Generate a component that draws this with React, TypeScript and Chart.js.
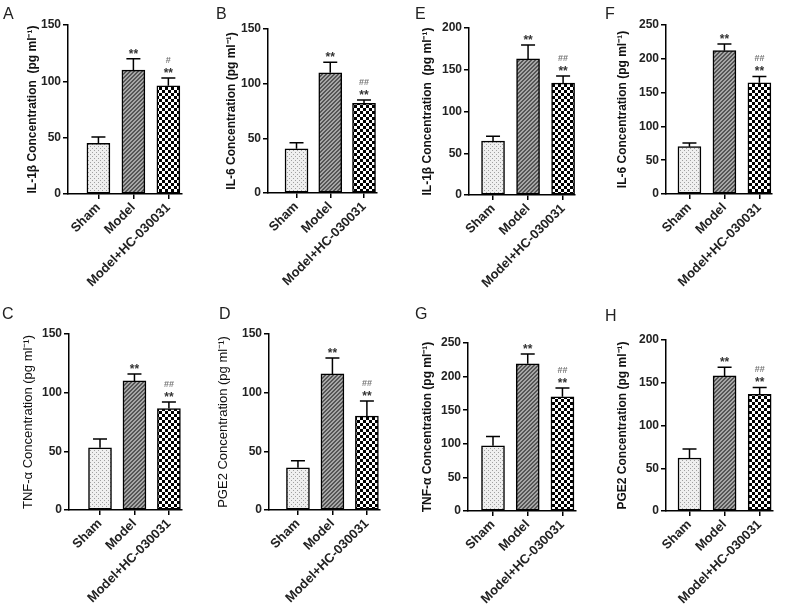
import React, { useEffect, useRef } from 'react';
import { Chart, registerables } from 'chart.js';
Chart.register(...registerables);

// ---------- data ----------
const categories = ['Sham', 'Model', 'Model+HC-030031'];
const starMarks = ['', '**', '**'];

const aMeans = [45, 110, 96];
const aSem = [5.5, 10, 7];
const aHash = ['', '', '#'];

const bMeans = [40.5, 110, 82];
const bSem = [5.5, 9.5, 3];
const bHash = ['', '', '##'];

const cMeans = [53, 110, 86.5];
const cSem = [7.5, 6, 5.5];
const cHash = ['', '', '##'];

const dMeans = [36, 116, 80];
const dSem = [6, 13.5, 13];
const dHash = ['', '', '##'];

const eMeans = [64.5, 163, 134];
const eSem = [6, 16.5, 8.5];
const eHash = ['', '', '##'];

const fMeans = [70, 212, 164.5];
const fSem = [5.5, 10, 9.5];
const fHash = ['', '', '##'];

const gMeans = [97, 219, 170];
const gSem = [14, 14.5, 13];
const gHash = ['', '', '##'];

const hMeans = [62, 158, 136.5];
const hSem = [10.5, 10, 8];
const hHash = ['', '', '##'];

const yMaxes = { A: 150, B: 150, C: 150, D: 150, E: 200, F: 250, G: 250, H: 200 };
const yTitles = {
  A: 'IL-1\u03b2 Concentration  (pg ml\u207b\u00b9)',
  B: 'IL-6 Concentration (pg ml\u207b\u00b9)',
  C: 'TNF-\u03b1 Concentration (pg ml\u207b\u00b9)',
  D: 'PGE2 Concentration (pg ml\u207b\u00b9)',
  E: 'IL-1\u03b2 Concentration  (pg ml\u207b\u00b9)',
  F: 'IL-6 Concentration (pg ml\u207b\u00b9)',
  G: 'TNF-\u03b1 Concentration (pg ml\u207b\u00b9)',
  H: 'PGE2 Concentration (pg ml\u207b\u00b9)',
};

const seriesByPanel = {
  A: { means: aMeans, sem: aSem, hash: aHash },
  B: { means: bMeans, sem: bSem, hash: bHash },
  C: { means: cMeans, sem: cSem, hash: cHash },
  D: { means: dMeans, sem: dSem, hash: dHash },
  E: { means: eMeans, sem: eSem, hash: eHash },
  F: { means: fMeans, sem: fSem, hash: fHash },
  G: { means: gMeans, sem: gSem, hash: gHash },
  H: { means: hMeans, sem: hSem, hash: hHash },
};

// ---------- layout (positions / sizes) ----------
type Layout = {
  id: string; left: number; top: number; w: number; h: number;
  axisX: number; yTop: number; yBottom: number; endX: number;
  xMin: number; xMax: number; titlePad: number; boldTitle: boolean;
  letterX: number; letterY: number;
};

const layouts: Layout[] = [
  { id: 'A', left: 0, top: 0, w: 195, h: 300, axisX: 68, yTop: 25, yBottom: 194, endX: 182, xMin: 0.13, xMax: 3.39, titlePad: 25, boldTitle: true, letterX: 3, letterY: 6 },
  { id: 'B', left: 195, top: 0, w: 195, h: 300, axisX: 268, yTop: 29, yBottom: 193, endX: 377, xMin: 0.155, xMax: 3.385, titlePad: 29, boldTitle: true, letterX: 216, letterY: 6 },
  { id: 'E', left: 390, top: 0, w: 200, h: 300, axisX: 469, yTop: 28, yBottom: 195, endX: 575, xMin: 0.314, xMax: 3.34, titlePad: 30, boldTitle: true, letterX: 415, letterY: 6 },
  { id: 'F', left: 590, top: 0, w: 200, h: 300, axisX: 666, yTop: 25, yBottom: 194, endX: 772, xMin: 0.33, xMax: 3.36, titlePad: 25, boldTitle: true, letterX: 605, letterY: 6 },
  { id: 'C', left: 0, top: 300, w: 195, h: 314, axisX: 69, yTop: 334, yBottom: 510, endX: 182, xMin: 0.10, xMax: 3.38, titlePad: 21, boldTitle: false, letterX: 2, letterY: 306 },
  { id: 'D', left: 195, top: 300, w: 195, h: 314, axisX: 269, yTop: 334, yBottom: 510, endX: 380, xMin: 0.16, xMax: 3.38, titlePad: 21, boldTitle: false, letterX: 219, letterY: 306 },
  { id: 'G', left: 390, top: 300, w: 200, h: 314, axisX: 468, yTop: 343, yBottom: 511, endX: 576, xMin: 0.28, xMax: 3.39, titlePad: 30, boldTitle: true, letterX: 415, letterY: 306 },
  { id: 'H', left: 590, top: 300, w: 200, h: 314, axisX: 666, yTop: 340, yBottom: 511, endX: 773, xMin: 0.33, xMax: 3.38, titlePad: 25, boldTitle: true, letterX: 605, letterY: 308 },
];

const FONT = '"Liberation Sans", Arial, Helvetica, sans-serif';

function makePattern(kind: string): CanvasPattern | string {
  const c = document.createElement('canvas');
  const ctx = c.getContext('2d');
  if (!ctx) return '#888';
  if (kind === 'dots') {
    c.width = 4; c.height = 4;
    ctx.fillStyle = '#efefef'; ctx.fillRect(0, 0, 4, 4);
    ctx.fillStyle = '#a0a0a0'; ctx.fillRect(0, 0, 1, 1); ctx.fillRect(2, 2, 1, 1);
  } else if (kind === 'hatch') {
    c.width = 4; c.height = 4;
    for (let x = 0; x < 4; x++) for (let y = 0; y < 4; y++) {
      ctx.fillStyle = (x + y) % 4 < 2 ? '#555555' : '#a6a6a6';
      ctx.fillRect(x, y, 1, 1);
    }
  } else {
    c.width = 6; c.height = 6;
    ctx.fillStyle = '#ffffff'; ctx.fillRect(0, 0, 6, 6);
    ctx.fillStyle = '#000000'; ctx.fillRect(0, 0, 3, 3); ctx.fillRect(3, 3, 3, 3);
  }
  return ctx.createPattern(c, 'repeat') || '#888';
}

function makeErrorPlugin(means: number[], sem: number[], hash: string[]) {
  return {
    id: 'errorBars',
    afterDatasetsDraw(chart: any) {
      const { ctx } = chart;
      const xs = chart.scales.x;
      const ys = chart.scales.y;
      ctx.save();
      ctx.strokeStyle = '#000';
      ctx.lineWidth = 1.5;
      for (let i = 0; i < means.length; i++) {
        const cx = xs.getPixelForValue(i + 1);
        const y0 = ys.getPixelForValue(means[i]);
        const y1 = ys.getPixelForValue(means[i] + sem[i]);
        ctx.beginPath();
        ctx.moveTo(cx, y0);
        ctx.lineTo(cx, y1);
        ctx.moveTo(cx - 7, y1);
        ctx.lineTo(cx + 7, y1);
        ctx.stroke();
        ctx.textAlign = 'center';
        ctx.textBaseline = 'alphabetic';
        if (starMarks[i]) {
          ctx.fillStyle = '#333';
          ctx.font = `bold 12px ${FONT}`;
          ctx.fillText(starMarks[i], cx, y1 - 1);
        }
        if (hash[i]) {
          ctx.fillStyle = '#777';
          ctx.font = `bold 9px ${FONT}`;
          ctx.fillText(hash[i], cx, y1 - 15);
        }
      }
      ctx.restore();
    },
  };
}

function Panel({ lay }: { lay: Layout }) {
  const ref = useRef<HTMLCanvasElement | null>(null);
  useEffect(() => {
    if (!ref.current) return;
    const s = (seriesByPanel as any)[lay.id];
    const patterns = [makePattern('dots'), makePattern('hatch'), makePattern('check')];
    const chart = new Chart(ref.current, {
      type: 'bar',
      data: {
        datasets: [
          {
            data: s.means.map((v: number, i: number) => ({ x: i + 1, y: v })),
            backgroundColor: patterns as any,
            borderColor: '#000',
            borderWidth: 1.5,
            borderSkipped: false,
            barThickness: 23,
          } as any,
        ],
      },
      options: {
        animation: false,
        responsive: false,
        maintainAspectRatio: false,
        layout: {
          padding: { top: lay.yTop - lay.top, right: lay.left + lay.w - lay.endX, bottom: 0, left: 0 },
        },
        plugins: { legend: { display: false }, tooltip: { enabled: false } },
        scales: {
          x: {
            type: 'linear',
            offset: false,
            bounds: 'data',
            min: lay.xMin,
            max: lay.xMax,
            afterBuildTicks: (scale: any) => {
              scale.ticks = categories.map((_, i) => ({ value: i + 1 }));
            },
            afterFit: (scale: any) => {
              scale.height = lay.top + lay.h - lay.yBottom;
            },
            grid: { display: true, offset: false, drawOnChartArea: false, drawTicks: true, tickLength: 5, color: '#000', lineWidth: 1.5 },
            border: { display: true, color: '#000', width: 1.5 },
            ticks: {
              autoSkip: false,
              maxRotation: 45,
              minRotation: 45,
              padding: 1,
              color: '#222',
              font: { family: FONT, size: 13, weight: 'bold' },
              callback: (v: any) => categories[Math.round(Number(v)) - 1] ?? '',
            },
          },
          y: {
            type: 'linear',
            min: 0,
            max: (yMaxes as any)[lay.id],
            afterFit: (scale: any) => {
              scale.width = lay.axisX - lay.left;
            },
            grid: { display: true, drawOnChartArea: false, drawTicks: true, tickLength: 5, color: '#000', lineWidth: 1.5 },
            border: { display: true, color: '#000', width: 1.5 },
            ticks: {
              stepSize: 50,
              padding: 2,
              color: '#222',
              font: { family: FONT, size: 12, weight: 'bold' },
            },
            title: {
              display: true,
              text: (yTitles as any)[lay.id],
              color: '#111',
              padding: { top: lay.titlePad, bottom: 0 },
              font: lay.boldTitle
                ? { family: FONT, size: 12, weight: 'bold' }
                : { family: FONT, size: 13, weight: 'normal' },
            },
          },
        },
      } as any,
      plugins: [makeErrorPlugin(s.means, s.sem, s.hash)],
    });
    return () => chart.destroy();
  }, [lay]);
  return (
    <canvas
      ref={ref}
      width={lay.w}
      height={lay.h}
      style={{ position: 'absolute', left: lay.left, top: lay.top, width: lay.w, height: lay.h }}
    />
  );
}

export default function App() {
  return (
    <div style={{ position: 'absolute', left: 0, top: 0, width: 790, height: 614, background: '#fff', overflow: 'hidden' }}>
      {layouts.map((l) => (
        <Panel key={l.id} lay={l} />
      ))}
      {layouts.map((l) => (
        <div
          key={'t' + l.id}
          style={{ position: 'absolute', left: l.letterX, top: l.letterY, fontFamily: FONT, fontSize: 16, lineHeight: '16px', color: '#222' }}
        >
          {l.id}
        </div>
      ))}
    </div>
  );
}
